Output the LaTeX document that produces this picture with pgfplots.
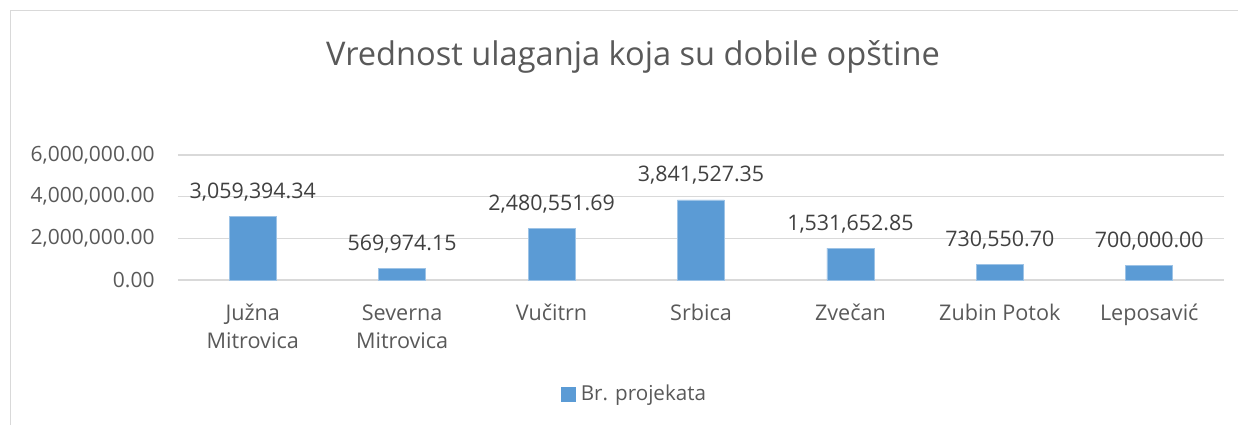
\documentclass[border=0pt]{standalone}
\usepackage{pgfplots}
\pgfplotsset{compat=1.18}
\usepackage{fontspec}
\setmainfont{Open Sans}
\definecolor{barblue}{HTML}{5B9BD5}
\definecolor{baredge}{HTML}{9DC3E6}
\definecolor{gridgray}{HTML}{D9D9D9}
\definecolor{txtgray}{HTML}{595959}
\definecolor{lblgray}{HTML}{404040}
\pgfplotstableread{
x y label
0 3059394.34 3,059,394.34
1 569974.15 569,974.15
2 2480551.69 2,480,551.69
3 3841527.35 3,841,527.35
4 1531652.85 1,531,652.85
5 730550.70 730,550.70
6 700000.00 700,000.00
}\datatable
\begin{document}
\begin{tikzpicture}
\useasboundingbox (0,0) rectangle (619pt,212.5pt);
\draw[gridgray, line width=0.75pt] (5.25pt,0) -- (5.25pt,207.25pt) -- (619pt,207.25pt);
\node[anchor=base, text=txtgray, font=\fontsize{16.3}{19}\selectfont, inner sep=0pt] at (316.5pt,180pt) {Vrednost ulaganja koja su dobile opštine};
\begin{axis}[
  at={(89pt,72.5pt)}, anchor=south west, scale only axis,
  width=523pt, height=62.5pt,
  xmin=-0.5, xmax=6.5, ymin=0, ymax=6000000,
  ybar, bar width=23.5pt,
  axis line style={draw=none},
  major tick length=0pt,
  ymajorgrids, major grid style={gridgray, line width=0.75pt},
  ytick={0,2000000,4000000,6000000},
  yticklabels={0.00,{2,000,000.00},{4,000,000.00},{6,000,000.00}},
  xtick={0,1,2,3,4,5,6},
  xticklabels={{Južna\\Mitrovica},{Severna\\Mitrovica},Vučitrn,Srbica,Zvečan,{Zubin Potok},Leposavić},
  ticklabel style={font=\fontsize{10.5}{14}\selectfont, text=txtgray},
  yticklabel style={anchor=east, inner sep=0pt, xshift=-11.5pt},
  xticklabel style={align=center, anchor=north, inner sep=0pt, yshift=-12pt, font=\fontsize{10.8}{14}\selectfont},
  scaled y ticks=false,
  legend style={at={(0.4375,-0.912)}, anchor=center, draw=none, fill=none,
    font=\fontsize{10.3}{14}\selectfont, text=txtgray,
    /tikz/every odd column/.append style={column sep=0.5pt}},
  legend image code/.code={\fill[barblue] (0pt,-3.5pt) rectangle (7pt,3.5pt);},
]
\addplot[fill=barblue, draw=baredge, line width=0.3pt,
  nodes near coords, point meta=explicit symbolic,
  nodes near coords style={anchor=base, yshift=9pt, inner sep=0pt, text=lblgray, font=\fontsize{10.7}{14}\selectfont}]
  table[x=x, y=y, meta=label] {\datatable};
\addlegendentry{Br. projekata}
\end{axis}
\end{tikzpicture}
\end{document}
